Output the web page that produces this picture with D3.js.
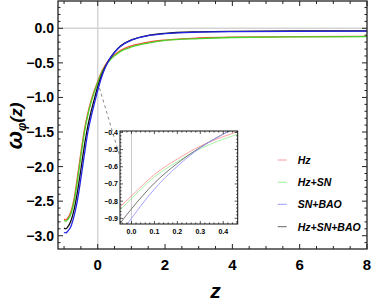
<!DOCTYPE html>
<html><head><meta charset="utf-8">
<script src="https://cdn.jsdelivr.net/npm/d3@7"></script>
<style>body{margin:0;background:#fff}svg{display:block}</style>
</head><body><svg id="c" width="374" height="305"></svg>
<script>
const zVals   = [-1,-0.95,-0.9,-0.8,-0.7,-0.6,-0.5,-0.4,-0.3,-0.2,-0.1,0,0.1,0.2,0.3,0.4,0.6,0.8,1,1.5,2,3,4,6,8];
const wHz     = [-2.76,-2.77,-2.75,-2.66,-2.46,-2.14,-1.80,-1.48,-1.24,-1.05,-0.90,-0.77,-0.645,-0.555,-0.48,-0.425,-0.345,-0.29,-0.255,-0.20,-0.17,-0.14,-0.128,-0.12,-0.118];
const wHzSN   = [-2.78,-2.79,-2.77,-2.69,-2.50,-2.19,-1.85,-1.52,-1.27,-1.075,-0.92,-0.785,-0.66,-0.57,-0.495,-0.44,-0.36,-0.305,-0.27,-0.215,-0.175,-0.148,-0.133,-0.124,-0.12];
const wSNBAO  = [-2.95,-2.96,-2.94,-2.87,-2.71,-2.48,-2.17,-1.84,-1.52,-1.29,-1.09,-0.90,-0.73,-0.597,-0.49,-0.41,-0.295,-0.22,-0.172,-0.107,-0.078,-0.056,-0.048,-0.043,-0.041];
const wHzSNBAO= [-2.89,-2.90,-2.88,-2.79,-2.62,-2.36,-2.04,-1.71,-1.43,-1.21,-1.02,-0.845,-0.695,-0.58,-0.487,-0.41,-0.29,-0.215,-0.168,-0.103,-0.073,-0.051,-0.043,-0.038,-0.036];
const seriesNames = ["Hz","Hz+SN","SN+BAO","Hz+SN+BAO"];
const seriesColors = ["#ff4a3a","#48d428","#2424e6","#111111"];
const legendColors = ["#ff9a9a","#9cf09c","#9a9aff","#666666"];
const xTicks = [0,2,4,6,8];
const yTicks = [0.0,-0.5,-1.0,-1.5,-2.0,-2.5,-3.0];
const insetXTicks = [0.0,0.1,0.2,0.3,0.4];
const insetYTicks = [-0.4,-0.5,-0.6,-0.7,-0.8,-0.9];

const seriesData = [wHz,wHzSN,wSNBAO,wHzSNBAO];
const drawOrder = [0,1,3,2];

const svg = d3.select("#c");
const FONT = "'Liberation Sans', Arial, sans-serif";
const L=58,R=367,T=1,B=249;
const x = d3.scaleLinear().domain([-1.18,8]).range([L,R]);
const y = d3.scaleLinear().domain([0.395,-3.192]).range([T,B]);

svg.append("defs").append("clipPath").attr("id","mainclip")
  .append("rect").attr("x",L).attr("y",T).attr("width",R-L).attr("height",B-T);

// grid lines at 0
svg.append("line").attr("x1",x(0)).attr("x2",x(0)).attr("y1",T).attr("y2",B)
  .attr("stroke","#d4d4d4").attr("stroke-width",1.4);
svg.append("line").attr("x1",L).attr("x2",R).attr("y1",y(0)).attr("y2",y(0))
  .attr("stroke","#d4d4d4").attr("stroke-width",1.4);

// curves
const mainG = svg.append("g").attr("clip-path","url(#mainclip)");
drawOrder.forEach(i=>{
  const line = d3.line().x(d=>x(d[0])).y(d=>y(d[1])).curve(d3.curveMonotoneX);
  mainG.append("path").datum(zVals.map((z,k)=>[z,seriesData[i][k]]))
    .attr("d",line).attr("fill","none").attr("stroke",seriesColors[i]).attr("stroke-width",1.3);
});

// frame
svg.append("rect").attr("x",L).attr("y",T).attr("width",R-L).attr("height",B-T)
  .attr("fill","none").attr("stroke","#222").attr("stroke-width",1.3);

// ticks
const g = svg.append("g").attr("stroke","#222").attr("stroke-width",1);
d3.range(-1,8.001,0.5).forEach(v=>{
  const major = Math.abs(v%2)<1e-6;
  const len = major?5:3;
  g.append("line").attr("x1",x(v)).attr("x2",x(v)).attr("y1",B).attr("y2",B-len);
  g.append("line").attr("x1",x(v)).attr("x2",x(v)).attr("y1",T).attr("y2",T+len);
});
d3.range(-31,4).forEach(k=>{
  const v=k/10;
  const major = k%5===0;
  const len = major?5:2.5;
  g.append("line").attr("x1",L).attr("x2",L+len).attr("y1",y(v)).attr("y2",y(v));
  g.append("line").attr("x1",R).attr("x2",R-len).attr("y1",y(v)).attr("y2",y(v));
});

// tick labels
svg.selectAll(".xt").data(xTicks).enter().append("text")
  .attr("x",d=>x(d)).attr("y",270).attr("text-anchor","middle")
  .attr("font-family",FONT).attr("font-weight","bold").attr("font-size",15)
  .text(d=>d3.format("d")(d));
svg.selectAll(".yt").data(yTicks).enter().append("text")
  .attr("x",54).attr("y",d=>y(d)+5).attr("text-anchor","end")
  .attr("font-family",FONT).attr("font-weight","bold").attr("font-size",14)
  .text(d=>d3.format(".1f")(d).replace("-","\u2212"));

// axis titles
svg.append("text").attr("x",215.5).attr("y",298).attr("text-anchor","middle")
  .attr("font-family",FONT).attr("font-weight","bold").attr("font-style","italic").attr("font-size",21).text("z");
const yt = svg.append("text").attr("transform","translate(22,126) rotate(-90)").attr("text-anchor","middle")
  .attr("font-family",FONT).attr("font-weight","bold").attr("font-style","italic");
yt.append("tspan").attr("font-size",22).text("\u03c9");
yt.append("tspan").attr("font-size",12).attr("dy",4).text("\u03c6");
yt.append("tspan").attr("font-size",17).attr("dy",-4).text("(z)");

// dashed arrow
const defs = svg.select("defs");
defs.append("marker").attr("id","ah").attr("viewBox","0 0 10 10").attr("refX",9).attr("refY",5)
  .attr("markerWidth",7).attr("markerHeight",7).attr("orient","auto")
  .append("path").attr("d","M0,1 L10,5 L0,9 Z").attr("fill","#333");
svg.append("line").attr("x1",99.5).attr("y1",88).attr("x2",128).attr("y2",184)
  .attr("stroke","#888").attr("stroke-width",1).attr("stroke-dasharray","3,3").attr("marker-end","url(#ah)");

// inset
const iL=120,iR=237.7,iT=131,iB=224;
const ix = d3.scaleLinear().domain([-0.05,0.463]).range([iL,iR]);
const iy = d3.scaleLinear().domain([-0.392,-0.933]).range([iT,iB]);
defs.append("clipPath").attr("id","iclip").append("rect").attr("x",iL).attr("y",iT).attr("width",iR-iL).attr("height",iB-iT);
svg.append("rect").attr("x",iL).attr("y",iT).attr("width",iR-iL).attr("height",iB-iT).attr("fill","#fff");
svg.append("line").attr("x1",ix(0)).attr("x2",ix(0)).attr("y1",iT).attr("y2",iB).attr("stroke","#bbb").attr("stroke-width",0.8);
const ig = svg.append("g").attr("clip-path","url(#iclip)");
drawOrder.forEach(i=>{
  const line = d3.line().x(d=>ix(d[0])).y(d=>iy(d[1])).curve(d3.curveMonotoneX);
  ig.append("path").datum(zVals.map((z,k)=>[z,seriesData[i][k]]))
    .attr("d",line).attr("fill","none").attr("stroke",legendColors[i]).attr("stroke-width",0.9);
});
svg.append("rect").attr("x",iL).attr("y",iT).attr("width",iR-iL).attr("height",iB-iT)
  .attr("fill","none").attr("stroke","#111").attr("stroke-width",1);
const itg = svg.append("g").attr("stroke","#111").attr("stroke-width",0.7);
d3.range(-2,24).forEach(k=>{
  const v=k/50; const major = k%5===0; const len = major?3:1.6;
  if(ix(v)<iL||ix(v)>iR) return;
  itg.append("line").attr("x1",ix(v)).attr("x2",ix(v)).attr("y1",iB).attr("y2",iB-len);
  itg.append("line").attr("x1",ix(v)).attr("x2",ix(v)).attr("y1",iT).attr("y2",iT+len);
});
d3.range(-46,-19).forEach(k=>{
  const v=k/50; const major = k%5===0; const len = major?3:1.6;
  if(iy(v)<iT||iy(v)>iB) return;
  itg.append("line").attr("x1",iL).attr("x2",iL+len).attr("y1",iy(v)).attr("y2",iy(v));
  itg.append("line").attr("x1",iR).attr("x2",iR-len).attr("y1",iy(v)).attr("y2",iy(v));
});
svg.selectAll(".ixt").data(insetXTicks).enter().append("text")
  .attr("x",d=>ix(d)).attr("y",234).attr("text-anchor","middle")
  .attr("font-family",FONT).attr("font-weight","bold").attr("font-size",7)
  .text(d=>d3.format(".1f")(d));
svg.selectAll(".iyt").data(insetYTicks).enter().append("text")
  .attr("x",118).attr("y",d=>iy(d)+2.5).attr("text-anchor","end")
  .attr("font-family",FONT).attr("font-weight","bold").attr("font-size",7)
  .text(d=>d3.format(".1f")(d).replace("-","\u2212"));

// legend
const legY = [160,182.3,204.3,226.7];
seriesNames.forEach((n,i)=>{
  svg.append("line").attr("x1",277.7).attr("x2",286.7).attr("y1",legY[i]).attr("y2",legY[i])
    .attr("stroke",legendColors[i]).attr("stroke-width",1);
  svg.append("text").attr("x",297.7).attr("y",legY[i]+3.8)
    .attr("font-family",FONT).attr("font-weight","bold").attr("font-style","italic").attr("font-size",10.5)
    .text(n);
});
</script></body></html>
